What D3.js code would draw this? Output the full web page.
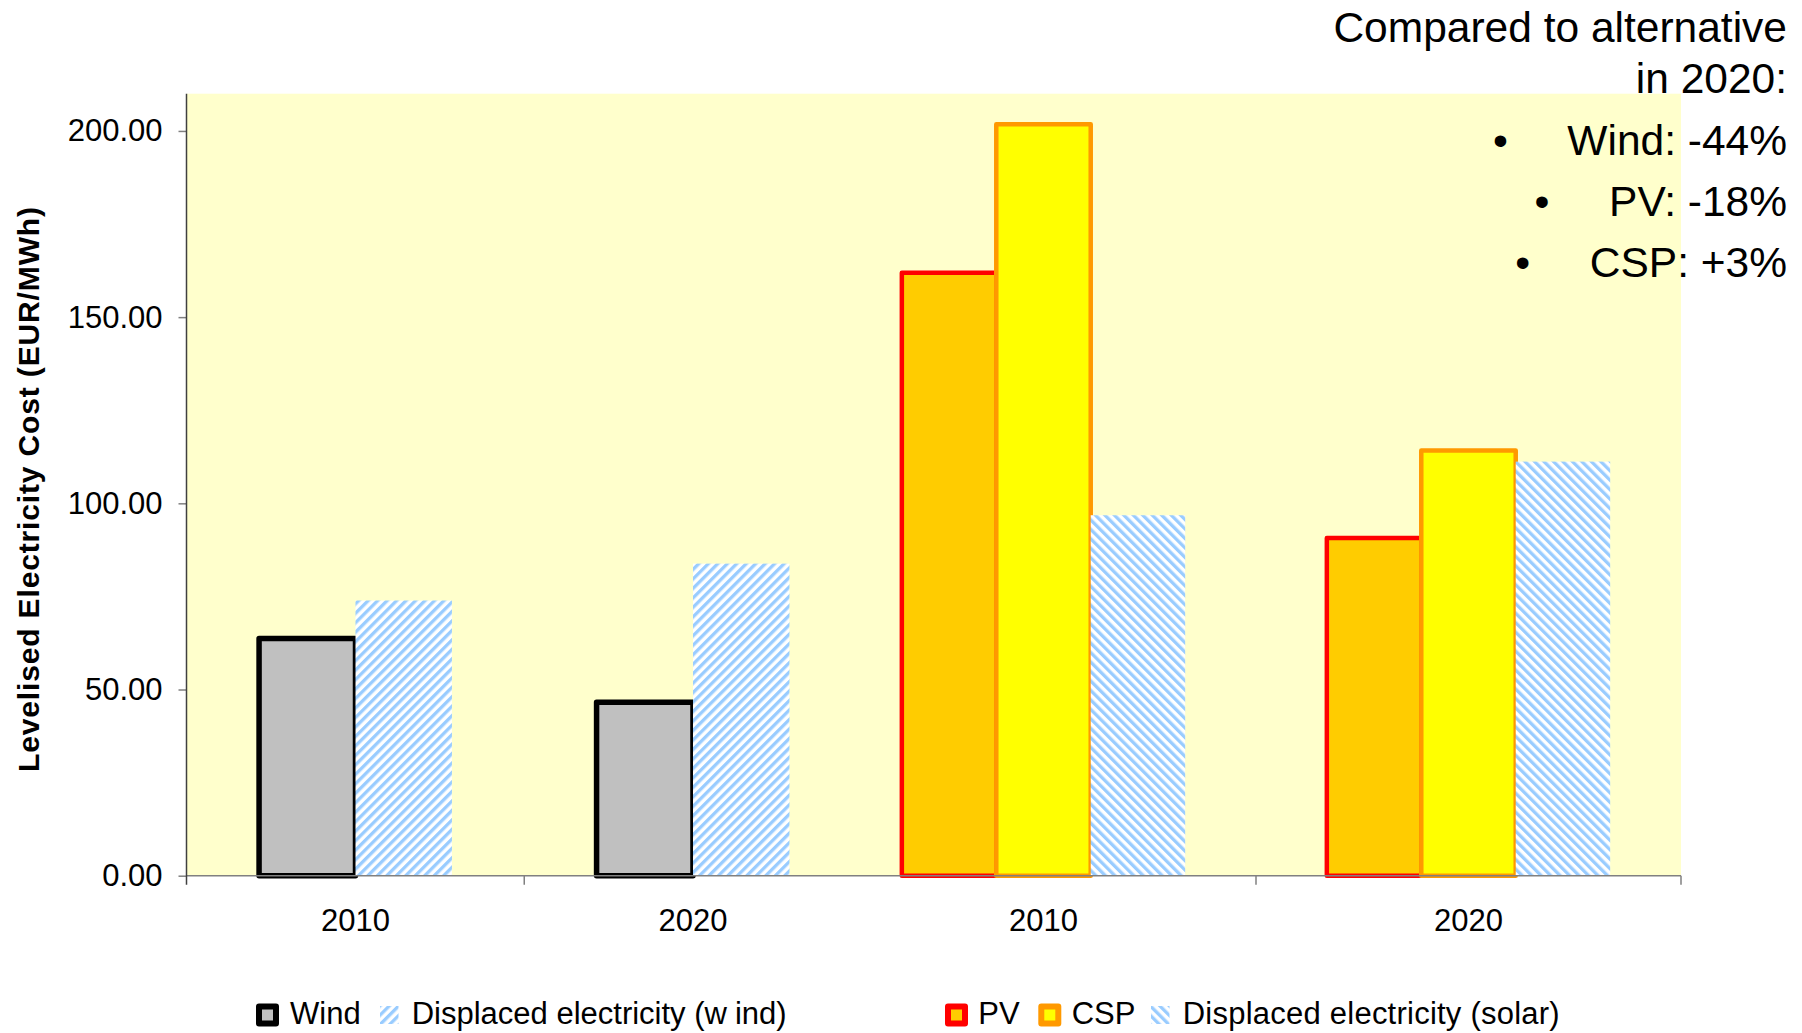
<!DOCTYPE html>
<html><head><meta charset="utf-8">
<script src="https://cdn.jsdelivr.net/npm/d3@7"></script>
<style>
html,body{margin:0;padding:0;background:#fff;}
svg{display:block;font-family:"Liberation Sans",Arial,sans-serif;}
</style></head><body>
<svg id="chart" width="1802" height="1033"></svg>
<script>
// ---- data ----
const years = ["2010", "2020"];
const wind = [63.7, 46.6];
const windDisplaced = [73.9, 83.8];
const pv = [161.9, 90.7];
const csp = [201.8, 114.2];
const solarDisplaced = [96.8, 111.2];
const yTicks = [0, 50, 100, 150, 200];
const yTitle = "Levelised Electricity Cost (EUR/MWh)";
const noteTitle = ["Compared to alternative", "in 2020:"];
const noteItems = ["Wind: -44%", "PV: -18%", "CSP: +3%"];
const legendLabels = ["Wind", "Displaced electricity (wind)", "PV", "CSP", "Displaced electricity (solar)"];

// ---- layout ----
const svg = d3.select("#chart");
const plot = {left: 186.5, right: 1681, top: 93.7, bottom: 875.7};
const y = d3.scaleLinear().domain([0, 210]).range([plot.bottom, plot.top]);
const xWind = d3.scaleBand().domain(years).range([186.75, 861.75]);
const xSolar = d3.scaleBand().domain(years).range([831, 1681]);
const innerWind = d3.scaleBand().domain(["wind", "disp"]).range([0, xWind.bandwidth()]).paddingOuter(0.75);
const innerSolar = d3.scaleBand().domain(["pv", "csp", "disp"]).range([0, xSolar.bandwidth()]).paddingOuter(0.75);

const defs = svg.append("defs");
function stripes(id, angle) {
  const P = 6.7;
  const p = defs.append("pattern").attr("id", id).attr("patternUnits", "userSpaceOnUse")
    .attr("width", P).attr("height", P).attr("patternTransform", `rotate(${angle})`);
  p.append("rect").attr("width", P).attr("height", P).attr("fill", "#fff");
  p.append("rect").attr("width", 3.3).attr("height", P).attr("fill", "#99CCFF");
}
stripes("hatchWind", 45);
stripes("hatchSolar", -45);

// plot background
svg.append("rect").attr("x", plot.left).attr("y", plot.top)
  .attr("width", plot.right - plot.left).attr("height", plot.bottom - plot.top)
  .attr("fill", "#FFFFCC");

// ---- bars ----
const series = [
  {vals: wind, x: xWind, inner: innerWind, key: "wind", fill: "#C0C0C0", stroke: "#000", sw: 5.5},
  {vals: windDisplaced, x: xWind, inner: innerWind, key: "disp", fill: "url(#hatchWind)", stroke: "none", sw: 0},
  {vals: pv, x: xSolar, inner: innerSolar, key: "pv", fill: "#FFCC00", stroke: "#FF0000", sw: 4.5},
  {vals: csp, x: xSolar, inner: innerSolar, key: "csp", fill: "#FFFF00", stroke: "#FF9900", sw: 4.5},
  {vals: solarDisplaced, x: xSolar, inner: innerSolar, key: "disp", fill: "url(#hatchSolar)", stroke: "none", sw: 0}
];
series.forEach(s => {
  svg.append("g").selectAll("rect")
    .data(years.map((yr, i) => ({yr, v: s.vals[i]})))
    .join("rect")
    .attr("x", d => s.x(d.yr) + s.inner(s.key))
    .attr("width", s.inner.bandwidth())
    .attr("y", d => y(d.v))
    .attr("height", d => y(0) - y(d.v))
    .attr("fill", s.fill)
    .attr("stroke", s.stroke)
    .attr("stroke-width", s.sw)
    .attr("stroke-linejoin", "round");
});

// ---- axes ----
const yAxis = svg.append("g").attr("transform", `translate(${plot.left},0)`)
  .call(d3.axisLeft(y).tickValues(yTicks).tickFormat(d3.format(".2f")).tickSize(8).tickPadding(16));
yAxis.select(".domain").remove();
yAxis.selectAll("line").attr("stroke", "#808080").attr("stroke-width", 1.5);
yAxis.selectAll("text").attr("font-size", 31).attr("font-family", "Liberation Sans, Arial, sans-serif").attr("fill", "#000");

[xWind, xSolar].forEach(sc => {
  const g = svg.append("g").attr("transform", `translate(0,${plot.bottom})`)
    .call(d3.axisBottom(sc).tickSize(0).tickPadding(33));
  g.select(".domain").remove();
  g.selectAll("text").attr("font-size", 31).attr("font-family", "Liberation Sans, Arial, sans-serif").attr("fill", "#000");
});

// axis lines
svg.append("line").attr("x1", plot.left).attr("x2", plot.right).attr("y1", plot.bottom).attr("y2", plot.bottom)
  .attr("stroke", "#808080").attr("stroke-width", 1.5);
svg.append("line").attr("x1", plot.left).attr("x2", plot.left).attr("y1", plot.top).attr("y2", plot.bottom + 9)
  .attr("stroke", "#404040").attr("stroke-width", 1.5);
const xBoundaries = [xWind("2020"), xSolar("2020"), xSolar.range()[1]];
svg.append("g").selectAll("line").data(xBoundaries).join("line")
  .attr("x1", d => d).attr("x2", d => d).attr("y1", plot.bottom).attr("y2", plot.bottom + 9)
  .attr("stroke", "#808080").attr("stroke-width", 1.5);

// y title
svg.append("text").attr("transform", "translate(38.7,489.5) rotate(-90)")
  .attr("text-anchor", "middle").attr("font-size", 30).attr("font-weight", "bold")
  .attr("textLength", 565).attr("lengthAdjust", "spacing")
  .text(yTitle);

// ---- legend ----
const legendY = 1015, legendBase = 1024.3;
function boxMarker(x, fill, stroke) {
  svg.append("rect").attr("x", x + 3).attr("y", legendY - 8.5).attr("width", 17).attr("height", 17)
    .attr("fill", fill).attr("stroke", stroke).attr("stroke-width", 6).attr("stroke-linejoin", "round");
}
function hatchMarker(x, pat) {
  svg.append("rect").attr("x", x).attr("y", legendY - 9).attr("width", 18.5).attr("height", 18)
    .attr("fill", `url(#${pat})`);
}
function legendText(x, str) {
  return svg.append("text").attr("x", x).attr("y", legendBase).attr("font-size", 31).text(str);
}
boxMarker(256, "#C0C0C0", "#000");
legendText(290, legendLabels[0]);
hatchMarker(380, "hatchWind");
{
  const t = svg.append("text").attr("x", 411.7).attr("y", legendBase).attr("font-size", 31);
  t.append("tspan").text("Displaced electricity (w");
  t.append("tspan").attr("dx", 8).text("ind)");
}
boxMarker(945, "#FFCC00", "#FF0000");
legendText(978.3, legendLabels[2]);
boxMarker(1038.3, "#FFFF00", "#FF9900");
legendText(1071.7, legendLabels[3]);
hatchMarker(1151, "hatchSolar");
legendText(1182.7, legendLabels[4]).attr("textLength", 377).attr("lengthAdjust", "spacing");

// ---- annotation ----
const noteX = 1787;
[41.7, 92.7].forEach((yy, i) => {
  svg.append("text").attr("x", noteX).attr("y", yy).attr("text-anchor", "end")
    .attr("font-size", 42.5).text(noteTitle[i]);
});
[155.3, 215.5, 276.7].forEach((yy, i) => {
  const t = svg.append("text").attr("x", noteX).attr("y", yy).attr("text-anchor", "end")
    .attr("font-size", 42.5).text(noteItems[i]);
  const w = t.node().getComputedTextLength();
  svg.append("text").attr("x", noteX - w - 67).attr("y", yy).attr("text-anchor", "middle")
    .attr("font-size", 42.5).text("\u2022");
});
</script>
</body></html>
